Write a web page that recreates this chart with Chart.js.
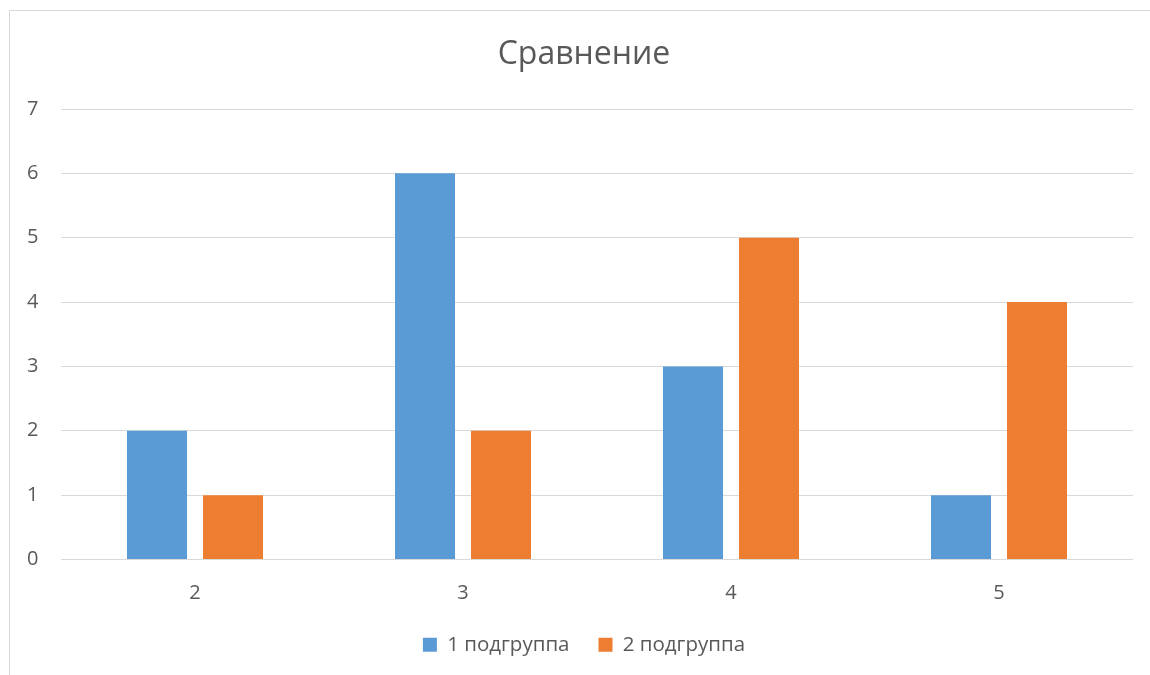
<!DOCTYPE html>
<html>
<head>
<meta charset="utf-8">
<script src="https://cdn.jsdelivr.net/npm/chart.js@4"></script>
<style>
  html, body { margin:0; padding:0; background:#fff; overflow:hidden; }
  #wrap { width:1150px; height:675px; position:relative; }
</style>
</head>
<body>
<div id="wrap"><canvas id="chart" width="1150" height="675"></canvas></div>
<script>
const categories = ['2', '3', '4', '5'];
const group1 = [2, 6, 3, 1];
const group2 = [1, 2, 5, 4];
const seriesNames = ['1 подгруппа', '2 подгруппа'];
const chartTitle = 'Сравнение';

const FONT = "'Open Sans', 'Noto Sans', sans-serif";
const TEXT = '#595959';
const GRID = '#d9d9d9';

// frame like the Excel chart border
const frame = {
  id: 'frame',
  beforeDraw(chart){
    const ctx = chart.ctx;
    ctx.save();
    ctx.fillStyle = '#fff';
    ctx.fillRect(0, 0, chart.width, chart.height);
    ctx.strokeStyle = GRID;
    ctx.lineWidth = 1;
    ctx.strokeRect(9.5, 10.5, 1300, 800);
    ctx.restore();
  }
};

new Chart(document.getElementById('chart'), {
  type: 'bar',
  data: {
    labels: categories,
    datasets: [
      { label: seriesNames[0], data: group1, backgroundColor: '#5B9BD5', categoryPercentage: 0.567, barPercentage: 0.79 },
      { label: seriesNames[1], data: group2, backgroundColor: '#ED7D31', categoryPercentage: 0.567, barPercentage: 0.79 }
    ]
  },
  options: {
    responsive: false,
    animation: false,
    layout: { padding: { left: 35, right: 17, top: 0, bottom: 10 } },
    plugins: {
      title: {
        display: true, text: chartTitle, color: TEXT,
        font: { family: FONT, size: 32, weight: 'normal' },
        padding: { top: 36, bottom: 34.6 }
      },
      legend: {
        position: 'bottom',
        labels: {
          color: TEXT, font: { family: FONT, size: 20.5 },
          boxWidth: 14, boxHeight: 14, padding: 29
        }
      },
      tooltip: { enabled: false }
    },
    scales: {
      x: {
        afterFit(scale){ scale.height = 46; },
        grid: { display: false },
        border: { display: false },
        ticks: { color: TEXT, font: { family: FONT, size: 20 }, padding: 14 }
      },
      y: {
        min: 0, max: 7,
        afterFit(scale){ scale.width = 26; },
        grid: { color: GRID, lineWidth: 1, drawTicks: false },
        border: { display: false },
        // mirrored so the labels are not clipped to the narrow axis box
        ticks: { stepSize: 1, color: TEXT, font: { family: FONT, size: 20 }, mirror: true, padding: -34 }
      }
    }
  },
  plugins: [frame]
});
</script>
</body>
</html>
